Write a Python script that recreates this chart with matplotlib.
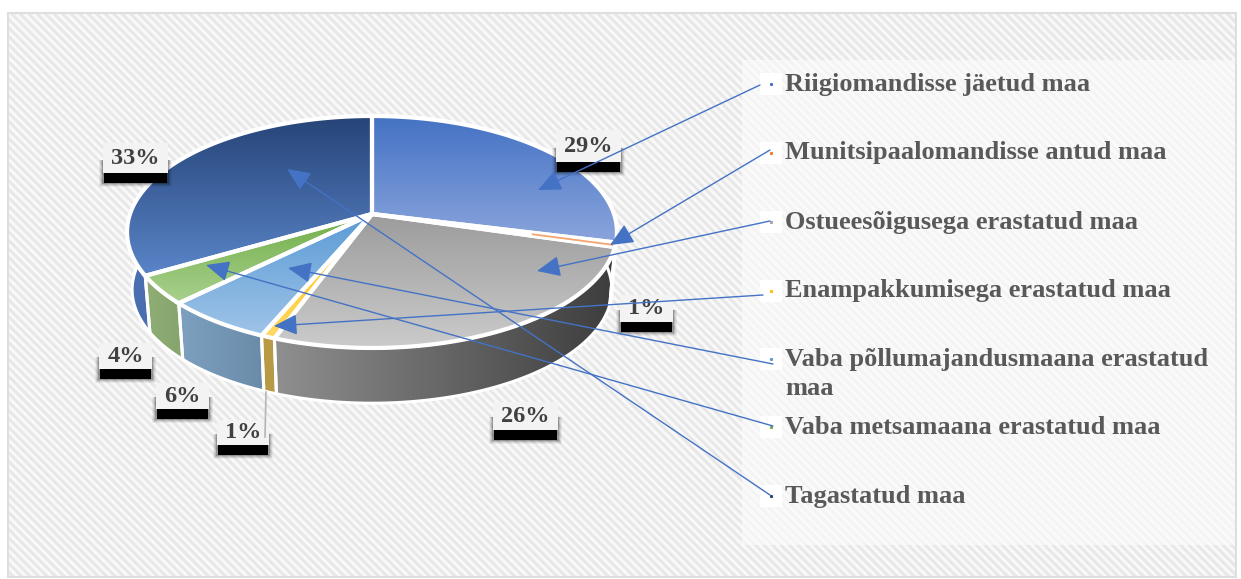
import numpy as np
import matplotlib
matplotlib.use("Agg")
import matplotlib.pyplot as plt
from matplotlib.colors import LinearSegmentedColormap
from matplotlib.patches import Polygon, Rectangle

plt.rcParams["font.family"] = ["Liberation Serif", "DejaVu Serif"]

W, H = 1241, 579

CATEGORIES = ["Riigiomandisse jäetud maa", "Munitsipaalomandisse antud maa",
              "Ostueesõigusega erastatud maa", "Enampakkumisega erastatud maa",
              "Vaba põllumajandusmaana erastatud\nmaa", "Vaba metsamaana erastatud maa",
              "Tagastatud maa"]
# percent shares, decimals
VALUES = [28.9, 0.6, 26.1, 0.8, 6.2, 4.0, 33.4]

TOP_COLORS = [("#4472c4", "#8ba5dc"), ("#ed7d31", "#f4b183"), ("#9c9c9c", "#cbcbcb"),
              ("#ffc000", "#ffd966"), ("#5b9bd5", "#9fc4e8"), ("#70ad47", "#a9d18e"),
              ("#264478", "#5a85c8")]
SIDE_COLORS = [("#5f7fc0", "#5f7fc0"), ("#b5683a", "#b5683a"), ("#8f8f8f", "#3d3d3d"),
               ("#b89a45", "#b89a45"), ("#7da0c0", "#6a8ba8"), ("#8fae75", "#86a56c"),
               ("#4a6eb0", "#4a6eb0")]
KEY_COLORS = ["#4472c4", "#ed7d31", "#a5a5a5", "#ffc000", "#5b9bd5", "#70ad47", "#264478"]

# layout in image pixels
CX, CY_TOP, DEPTH = 372, 214, 58
R_TOP, R_BOTTOM, K, P = 242, 237, 113.2, 0.155
LEGEND_Y = [84, 153, 222, 291, 374, 427, 496]
ARROW_START = [(760, 85), (770, 150), (770, 221), (763, 295), (773, 364), (773, 426), (770, 495)]
ARROW_END = [(538, 190), (610, 245), (537, 271), (274, 326), (288, 268), (206, 265), (287, 169)]
LABEL_BOX = [(556, 130, 65, 32), (620, 295, 53, 27), (493, 402, 65, 28), (217, 420, 52, 25),
             (156, 383, 53, 26), (99, 343, 53, 26), (103, 143, 65, 30)]


def project(ang, r, cy):
    # clockwise from 12 o'clock, slight perspective towards the viewer
    u, v = np.sin(ang), -np.cos(ang)
    d = 1 - P * v
    return CX + r * u / d, cy + K * (r / R_TOP) * v / d


def gradient_fill(ax, pts, colors, horizontal=False, zorder=3):
    cmap = LinearSegmentedColormap.from_list("g", colors)
    x0, y0 = pts.min(axis=0)
    x1, y1 = pts.max(axis=0)
    g = np.linspace(0, 1, 128)
    g = g[None, :] if horizontal else g[:, None]
    im = ax.imshow(g, cmap=cmap, vmin=0, vmax=1, extent=(x0, x1, y1, y0),
                   aspect="auto", zorder=zorder, interpolation="bilinear")
    poly = Polygon(pts, closed=True, transform=ax.transData, fc="none", ec="none")
    ax.add_patch(poly)
    im.set_clip_path(poly)


fig = plt.figure(figsize=(W / 100, H / 100), dpi=100)
ax = fig.add_axes([0, 0, 1, 1])
ax.axis("off")

# hatched backdrop
yy, xx = np.mgrid[0:H, 0:W]
stripes = 0.5 + 0.5 * np.sin(2 * np.pi * (xx - yy) / 8.5)
ax.imshow(stripes, cmap=LinearSegmentedColormap.from_list("s", ["#e6e6e6", "#fbfbfb"]),
          extent=(0, W, H, 0), aspect="auto", zorder=0, interpolation="bilinear")
light = stripes * 0.35 + 0.65
legend_bg = ax.imshow(light, cmap=LinearSegmentedColormap.from_list("s", ["#e6e6e6", "#fbfbfb"]),
                      vmin=0, vmax=1, extent=(0, W, H, 0), aspect="auto", zorder=0.5)
legend_bg.set_clip_path(Rectangle((742, 60), 494, 485, transform=ax.transData))
# white margin and thin frame
for xy, w, h in [((0, 0), W, 12), ((0, 577), W, 2), ((0, 0), 7, H), ((1237, 0), 4, H)]:
    ax.add_patch(Rectangle(xy, w, h, fc="white", ec="none", zorder=1))
ax.add_patch(Rectangle((8, 13), 1228, 564, fc="none", ec="#dedede", lw=1.5, zorder=1))

edges = np.cumsum([0] + VALUES) / sum(VALUES) * 2 * np.pi

# side wall first, back to front by painting order
side_order = [6, 0, 1, 2, 5, 4, 3]
for i in side_order:
    ang = np.linspace(edges[i], edges[i + 1], 80)
    xt, yt = project(ang, R_TOP, CY_TOP)
    xb, yb = project(ang, R_BOTTOM, CY_TOP + DEPTH)
    pts = np.column_stack([np.r_[xt, xb[::-1]], np.r_[yt, yb[::-1]]])
    gradient_fill(ax, pts, SIDE_COLORS[i], horizontal=True, zorder=3)
    ax.add_patch(Polygon(pts, closed=True, fc="none", ec="white", lw=2.2, zorder=3.5))

# top face
for i in range(len(VALUES)):
    ang = np.linspace(edges[i], edges[i + 1], 80)
    xt, yt = project(ang, R_TOP, CY_TOP)
    pts = np.column_stack([np.r_[CX, xt], np.r_[CY_TOP, yt]])
    gradient_fill(ax, pts, TOP_COLORS[i], zorder=4)
    ax.add_patch(Polygon(pts, closed=True, fc="none", ec="white", lw=3, zorder=4.5))

# the thinnest slice would vanish under its white border
mid = (edges[1] + edges[2]) / 2
mx, my = project(mid, R_TOP, CY_TOP)
ax.plot([CX + 0.66 * (mx - CX), mx - 3], [CY_TOP + 0.66 * (my - CY_TOP), my],
        color="#f4a56e", lw=1.3, zorder=4.8)

# leader of the lower 1% label
ax.plot([266, 265], [392, 437], color="#b5b5b5", lw=1.2, zorder=6.5)

# data labels, shadow soft only around the lower edge
for box, v in zip(LABEL_BOX, VALUES):
    x, y, w, h = box
    for grow, alpha in [(4, 0.05), (3, 0.08), (2, 0.12), (1, 0.2)]:
        ax.add_patch(Rectangle((x - grow, y + h * 0.55), w + 2 * grow, h * 0.45 + 10 + grow,
                               fc="black", ec="none", alpha=alpha, zorder=5.8))
    ax.add_patch(Rectangle((x + 1, y + h), w - 2, 10, fc="black", ec="none", zorder=6))
    ax.add_patch(Rectangle((x, y), w, h, fc="#f3f3f3", ec="none", zorder=6.2))
    ax.text(x + w / 2, y + h / 2, f"{v:.0f}%", ha="center", va="center", fontsize=17.5,
            fontweight="bold", color="#404040", zorder=7)

# legend keys and labels
for name, y, c in zip(CATEGORIES, LEGEND_Y, KEY_COLORS):
    key_y = y - 15 if "\n" in name else y
    ax.add_patch(Rectangle((760, key_y - 11), 22, 22, fc="white", ec="none", zorder=2))
    ax.plot([771], [key_y], "s", ms=1.2, color=c, zorder=8)
    ax.text(785, y, name, ha="left", va="center", fontsize=19, fontweight="bold",
            color="#595959", linespacing=1.3, zorder=8)

# callout arrows
for start, end in zip(ARROW_START, ARROW_END):
    ax.annotate("", xy=end, xytext=start, zorder=9,
                arrowprops=dict(arrowstyle="-|>,head_length=0.9,head_width=0.4", color="#4472c4",
                                lw=1.0, shrinkA=0, shrinkB=0, mutation_scale=16))

ax.set_xlim(0, W)
ax.set_ylim(H, 0)
fig.savefig("out.png", dpi=100)
